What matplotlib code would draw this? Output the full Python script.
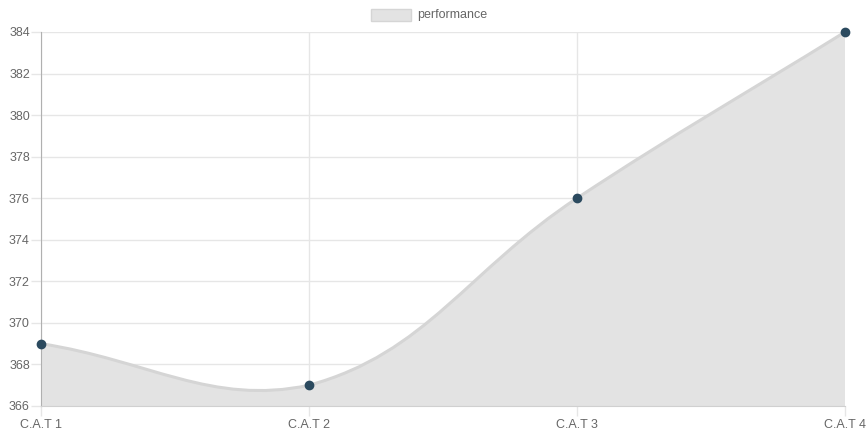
import matplotlib.pyplot as plt
import numpy as np
from matplotlib.path import Path
from matplotlib.patches import PathPatch, Rectangle

plt.rcParams['font.family'] = ['Liberation Sans', 'DejaVu Sans']

categories = ["C.A.T 1", "C.A.T 2", "C.A.T 3", "C.A.T 4"]
performance = [369, 367, 376, 384]
y_ticks = list(range(366, 385, 2))

W, H = 868, 434
L, R, T, B = 41, 845, 32, 406

fig = plt.figure(figsize=(W / 100, H / 100), dpi=100)
ax = fig.add_axes([L / W, 1 - B / H, (R - L) / W, (B - T) / H])
ymin, ymax = 366, 384
ax.set_xlim(0, len(categories) - 1)
ax.set_ylim(ymin, ymax)

# chart.js style bezier (tension 0.4) computed in pixel space
sx = (R - L) / (len(categories) - 1)
sy = (B - T) / (ymax - ymin)
px = np.arange(len(categories)) * sx
py = np.array(performance) * -sy
n = len(px)
verts = [(px[0], py[0])]
codes = [Path.MOVETO]
ctrl_prev, ctrl_next = [], []
for i in range(n):
    p0 = (px[max(i - 1, 0)], py[max(i - 1, 0)])
    p1 = (px[i], py[i])
    p2 = (px[min(i + 1, n - 1)], py[min(i + 1, n - 1)])
    d01 = np.hypot(p1[0] - p0[0], p1[1] - p0[1])
    d12 = np.hypot(p2[0] - p1[0], p2[1] - p1[1])
    s01 = d01 / (d01 + d12) if d01 + d12 else 0
    s12 = d12 / (d01 + d12) if d01 + d12 else 0
    fa, fb = 0.4 * s01, 0.4 * s12
    ctrl_prev.append((p1[0] - fa * (p2[0] - p0[0]), p1[1] - fa * (p2[1] - p0[1])))
    ctrl_next.append((p1[0] + fb * (p2[0] - p0[0]), p1[1] + fb * (p2[1] - p0[1])))
for i in range(1, n):
    verts += [ctrl_next[i - 1], ctrl_prev[i], (px[i], py[i])]
    codes += [Path.CURVE4] * 3
verts = [(x / sx, -y / sy) for x, y in verts]
verts = [(x, min(max(y, ymin), ymax)) for x, y in verts]

fill_verts = verts + [(n - 1, ymin), (0, ymin), verts[0]]
fill_codes = codes + [Path.LINETO, Path.LINETO, Path.CLOSEPOLY]
ax.add_patch(PathPatch(Path(fill_verts, fill_codes), facecolor='#e3e3e3', edgecolor='none', zorder=1))
ax.add_patch(PathPatch(Path(verts, codes), facecolor='none', edgecolor='#d5d5d5', lw=2.2, zorder=2))

ax.plot(range(n), performance, 'o', color='#2b4a5f', markersize=6, zorder=4, clip_on=False,
        markeredgecolor='#2b4a5f')

ax.set_xticks(range(n))
ax.set_xticklabels(categories)
ax.set_yticks(y_ticks)
ax.grid(True, color='#e6e6e6', lw=1, zorder=0)
ax.set_axisbelow(True)
ax.tick_params(axis='both', colors='#e6e6e6', labelcolor='#666666', labelsize=9, length=7, width=1)
ax.tick_params(axis='y', pad=1)
ax.tick_params(axis='x', pad=2)
for s in ['top', 'right']:
    ax.spines[s].set_visible(False)
ax.spines['left'].set_color('#b0b0b0')
ax.spines['bottom'].set_color('#d0d0d0')

# legend
fig.patches.append(Rectangle((371 / W, 1 - 21 / H), 40 / W, 12 / H, transform=fig.transFigure,
                             facecolor='#e3e3e3', edgecolor='#d5d5d5', lw=1))
fig.text(417 / W, 1 - 15 / H, "performance", color='#666666', fontsize=9, va='center', ha='left')

fig.savefig('out.png', dpi=100, facecolor='white')
